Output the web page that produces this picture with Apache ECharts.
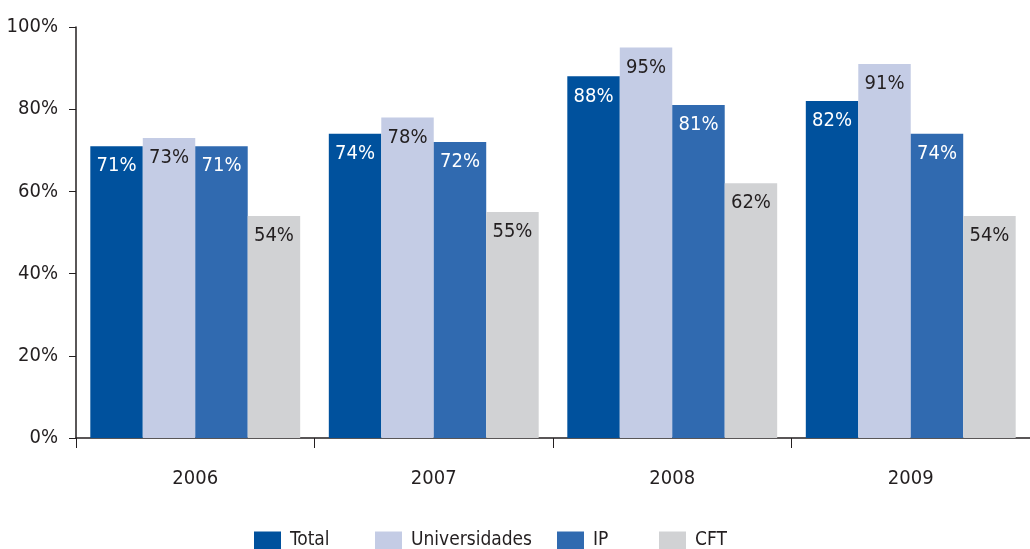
<!DOCTYPE html>
<html><head><meta charset="utf-8">
<script src="https://cdn.jsdelivr.net/npm/echarts@6/dist/echarts.min.js"></script>
<style>html,body{margin:0;padding:0;background:#fff}#c{width:1030px;height:549px}</style>
</head><body><div id="c"></div>
<script>
const categories = ['2006', '2007', '2008', '2009'];
const total = [71, 74, 88, 82];
const universidades = [73, 78, 95, 91];
const ip = [71, 72, 81, 74];
const cft = [54, 55, 62, 54];
const seriesNames = ['Total', 'Universidades', 'IP', 'CFT'];
const FONT = "'DejaVu Sans Condensed', 'Liberation Sans Narrow', sans-serif";
const colors = ['#00519d', '#c4cce5', '#306ab0', '#d1d2d4'];
const labelColors = ['#ffffff', '#231f20', '#ffffff', '#231f20'];
const data = [total, universidades, ip, cft];
const legendLefts = [254, 375, 557, 659];

const chart = echarts.init(document.getElementById('c'), null, {renderer: 'canvas'});
chart.setOption({
  animation: false,
  textStyle: {fontFamily: FONT},
  color: colors,
  grid: {left: 76, right: -2, top: 27, bottom: 111, containLabel: false},
  legend: seriesNames.map((n, i) => ({
    top: 531, left: legendLefts[i], itemWidth: 27, itemHeight: 18, padding: 0,
    icon: 'rect',
    textStyle: {fontFamily: FONT, fontSize: 19, color: '#231f20', padding: [3, 0, 0, 4]},
    data: [n]
  })),
  xAxis: {
    type: 'category', data: categories,
    axisLine: {lineStyle: {color: '#231f20', width: 1.5}},
    axisTick: {show: true, length: 10, alignWithLabel: false, lineStyle: {color: '#231f20'}},
    axisLabel: {fontFamily: FONT, fontSize: 20, color: '#231f20', margin: 31}
  },
  yAxis: {
    type: 'value', min: 0, max: 100, interval: 20,
    axisLine: {show: true, lineStyle: {color: '#231f20', width: 1.5}},
    axisTick: {show: true, length: 7, lineStyle: {color: '#231f20'}},
    splitLine: {show: false},
    axisLabel: {fontFamily: FONT, fontSize: 20, color: '#231f20', margin: 18, formatter: '{value}%'}
  },
  series: seriesNames.map((n, i) => ({
    name: n, type: 'bar', data: data[i],
    barGap: '0%', barCategoryGap: '12%',
    label: {show: true, position: 'insideTop', distance: 10, formatter: '{c}%',
      fontFamily: FONT, fontSize: 20, color: labelColors[i]}
  }))
});
</script></body></html>
